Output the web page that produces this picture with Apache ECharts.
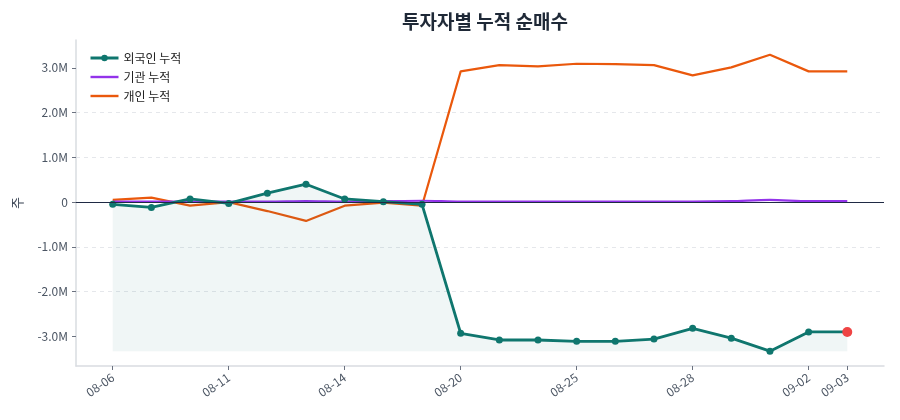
<!DOCTYPE html>
<html>
<head>
<meta charset="utf-8">
<script src="https://cdn.jsdelivr.net/npm/echarts@6/dist/echarts.min.js"></script>
<style>
  html, body { margin: 0; padding: 0; background: #fff; }
  #chart { width: 900px; height: 420px; }
</style>
</head>
<body>
<div id="chart"></div>
<script>
// 거래일
var dates = ['08-06', '08-07', '08-08', '08-11', '08-12', '08-13', '08-14', '08-18', '08-19', '08-20',
             '08-21', '08-22', '08-25', '08-26', '08-27', '08-28', '08-29', '09-01', '09-02', '09-03'];
// 누적 순매수 (주)
var foreign = [-50000, -120000, 70000, -30000, 200000, 400000, 70000, 10000, -50000, -2930000,
               -3080000, -3080000, -3110000, -3110000, -3060000, -2820000, -3040000, -3330000, -2900000, -2900000];
var institution = [10000, 10000, 10000, 10000, 10000, 20000, 10000, 20000, 30000, 10000,
                   10000, 10000, 10000, 10000, 10000, 10000, 20000, 50000, 20000, 20000];
var individual = [50000, 100000, -80000, 0, -200000, -420000, -80000, -10000, -80000, 2920000,
                  3060000, 3030000, 3090000, 3080000, 3060000, 2830000, 3010000, 3290000, 2920000, 2920000];
// 표시할 눈금
var xTickIdx = [0, 3, 6, 9, 12, 15, 18, 19];
var yTicks = [-3000000, -2000000, -1000000, 0, 1000000, 2000000, 3000000];

var FONT = '"Noto Sans CJK KR", "Noto Sans", sans-serif';
var LINE_ICON = 'path://M0,0 L28,0 L28,2.4 L0,2.4 Z';

function pairs(arr) {
    return arr.map(function (v, i) { return [i, v]; });
}

var allVals = foreign.concat(institution, individual);
var yMin = Math.min.apply(null, allVals);
var yMax = Math.max.apply(null, allVals);
var yPad = (yMax - yMin) * 0.05;
var foreignMin = Math.min.apply(null, foreign);

var foreignData = pairs(foreign);
foreignData[foreignData.length - 1] = {
    value: foreignData[foreignData.length - 1],
    symbolSize: 10,
    itemStyle: { color: '#ef4444' }
};

var chart = echarts.init(document.getElementById('chart'));
var option = {
    animation: false,
    textStyle: { fontFamily: FONT },
    title: {
        text: '투자자별 누적 순매수',
        left: 480,
        textAlign: 'center',
        top: 7,
        textStyle: { fontFamily: FONT, fontSize: 19, fontWeight: 'bold', color: '#1f2937' }
    },
    legend: {
        orient: 'vertical',
        left: 84,
        top: 47,
        itemWidth: 28,
        itemHeight: 8,
        itemGap: 7,
        textStyle: { fontFamily: FONT, fontSize: 12, color: '#1f1f1f' },
        data: [
            { name: '외국인 누적', lineStyle: { width: 3 } },
            { name: '기관 누적', icon: LINE_ICON },
            { name: '개인 누적', icon: LINE_ICON }
        ]
    },
    grid: { left: 76, right: 16, top: 40, bottom: 54 },
    xAxis: {
        type: 'value',
        min: -0.95,
        max: dates.length - 1 + 0.95,
        splitLine: { show: false },
        axisLine: { onZero: false, lineStyle: { color: '#d9dce1', width: 1.5 } },
        axisTick: { show: true, customValues: xTickIdx, length: 4, lineStyle: { color: '#6b7280' } },
        axisLabel: {
            customValues: xTickIdx,
            rotate: 35,
            margin: 10,
            fontSize: 12,
            color: '#4b5563',
            fontFamily: FONT,
            formatter: function (v) { return dates[v]; }
        }
    },
    yAxis: {
        type: 'value',
        min: yMin - yPad,
        max: yMax + yPad,
        name: '주',
        nameLocation: 'middle',
        nameRotate: 90,
        nameGap: 52,
        nameTextStyle: { fontFamily: FONT, fontSize: 13, color: '#374151' },
        axisLine: { show: true, onZero: false, lineStyle: { color: '#d9dce1', width: 1.5 } },
        axisTick: { show: true, customValues: yTicks, length: 4, lineStyle: { color: '#6b7280' } },
        splitLine: {
            show: true,
            showMinLine: false,
            showMaxLine: false,
            lineStyle: { color: '#e5e7eb', type: [4, 4], width: 1 }
        },
        axisLabel: {
            customValues: yTicks,
            fontSize: 12,
            color: '#4b5563',
            fontFamily: FONT,
            formatter: function (v) {
                return v === 0 ? '0' : (v / 1000000).toFixed(1) + 'M';
            }
        }
    },
    series: [
        {
            name: '외국인 누적',
            type: 'line',
            data: foreignData,
            symbol: 'circle',
            symbolSize: 7,
            z: 4,
            lineStyle: { color: '#0f766e', width: 2.8 },
            itemStyle: { color: '#0f766e' },
            areaStyle: { origin: foreignMin, color: 'rgba(15,118,110,0.09)' }
        },
        {
            name: '기관 누적',
            type: 'line',
            data: pairs(institution),
            symbol: 'none',
            smooth: 0.3,
            z: 3,
            lineStyle: { color: '#9333ea', width: 2.2 },
            itemStyle: { color: '#9333ea' },
            markLine: {
                silent: true,
                symbol: 'none',
                label: { show: false },
                lineStyle: { color: '#1f2a44', width: 1.2, type: 'solid' },
                data: [{ yAxis: 0 }]
            }
        },
        {
            name: '개인 누적',
            type: 'line',
            data: pairs(individual),
            symbol: 'none',
            z: 2,
            lineStyle: { color: '#ea580c', width: 2.2 },
            itemStyle: { color: '#ea580c' }
        }
    ]
};
chart.setOption(option);
</script>
</body>
</html>
